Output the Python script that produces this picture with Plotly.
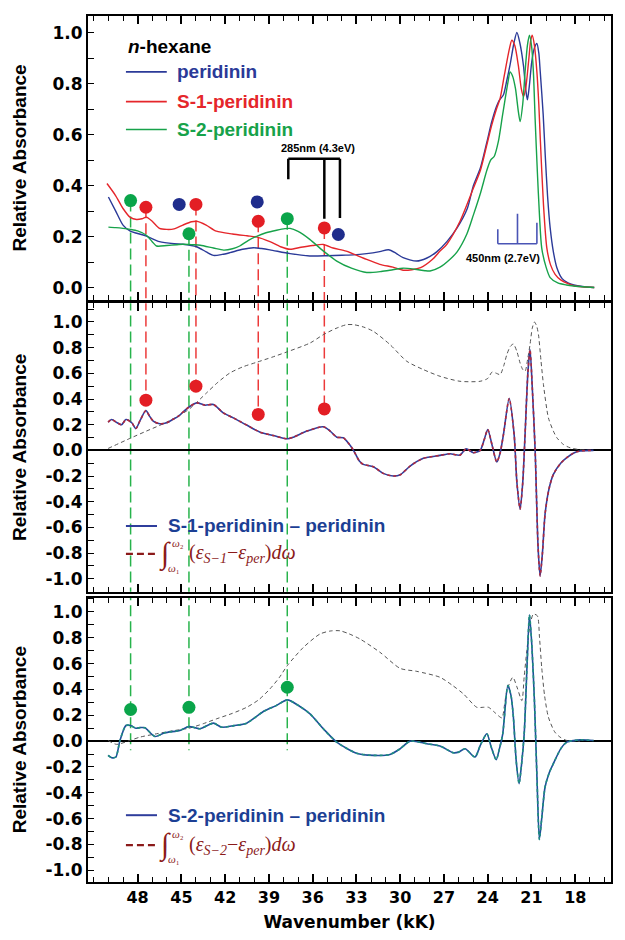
import plotly.graph_objects as go
from plotly.subplots import make_subplots

# ---------------- data: top panel (n-hexane spectra) ----------------
PER_K = [50.0, 49.5, 49.0, 48.5, 48.0, 47.4, 46.5, 45.5, 44.9, 43.95, 43.3, 42.8, 42.2, 41.67, 40.8, 40.07,
         39.5, 38.93, 37.55, 36.2, 35.0, 34.0, 33.2, 32.3, 31.4, 30.8, 30.3, 29.8, 28.87, 28.2, 27.5, 26.8,
         26.1, 25.4, 24.98, 24.5, 24.06, 23.72, 23.4, 23.2, 22.93, 22.7, 22.47, 22.2, 22.0, 21.8, 21.55,
         21.4, 21.28, 21.15, 20.98, 20.8, 20.63, 20.5, 20.4, 20.2, 20.06, 19.9, 19.72, 19.5, 19.26, 18.9,
         18.5, 18.1, 17.5, 16.7]
PER_V = [0.355, 0.30, 0.245, 0.221, 0.212, 0.202, 0.18, 0.172, 0.17, 0.16, 0.14, 0.126, 0.13, 0.137, 0.15, 0.156,
         0.153, 0.148, 0.133, 0.124, 0.125, 0.127, 0.128, 0.133, 0.141, 0.148, 0.135, 0.117, 0.104, 0.115, 0.14, 0.18,
         0.234, 0.31, 0.40, 0.47, 0.57, 0.651, 0.71, 0.735, 0.755, 0.81, 0.873, 0.96, 1.0, 0.96, 0.87,
         0.78, 0.736, 0.79, 0.886, 0.94, 0.957, 0.92, 0.846, 0.68, 0.521, 0.36, 0.234, 0.14, 0.078, 0.035,
         0.018, 0.01, 0.004, 0.0]

S1_K = [50.1, 49.5, 49.0, 48.5, 48.07, 47.7, 47.4, 47.0, 46.5, 46.0, 45.5, 44.9, 44.3, 43.95, 43.3, 42.6,
        41.5, 40.5, 39.8, 38.93, 38.2, 37.55, 36.8, 36.0, 35.27, 34.6, 33.7, 32.5, 31.4, 30.5, 29.8, 29.2,
        28.6, 27.8, 27.27, 26.8, 25.9, 24.98, 24.5, 24.06, 23.72, 23.4, 23.15, 22.9, 22.69, 22.5, 22.35,
        22.15, 21.9, 21.7, 21.55, 21.4, 21.2, 21.05, 20.95, 20.8, 20.63, 20.5, 20.4, 20.18, 19.95, 19.7,
        19.38, 19.0, 18.5, 18.1, 17.5, 16.7]
S1_V = [0.408, 0.36, 0.31, 0.275, 0.267, 0.27, 0.276, 0.26, 0.232, 0.228, 0.23, 0.245, 0.258, 0.26, 0.245, 0.221,
        0.21, 0.203, 0.198, 0.18, 0.16, 0.15, 0.158, 0.165, 0.169, 0.155, 0.143, 0.115, 0.091, 0.08, 0.068, 0.07,
        0.078, 0.11, 0.143, 0.17, 0.26, 0.39, 0.46, 0.56, 0.638, 0.70, 0.742, 0.82, 0.886, 0.94, 0.97,
        0.95, 0.87, 0.78, 0.749, 0.78, 0.886, 0.97, 0.99, 0.95, 0.846, 0.72, 0.586, 0.327, 0.156, 0.09,
        0.052, 0.03, 0.015, 0.007, 0.003, 0.0]

S2_K = [50.0, 49.5, 49.0, 48.5, 48.0, 47.4, 47.0, 46.7, 46.0, 45.3, 44.9, 44.2, 43.7, 42.8, 42.1, 41.5,
        41.0, 40.4, 39.8, 39.2, 38.47, 37.9, 37.55, 37.0, 36.2, 35.3, 34.35, 33.3, 32.3, 31.3, 30.5, 29.8,
        29.0, 28.3, 27.95, 27.27, 26.6, 26.1, 25.43, 24.98, 24.5, 24.06, 23.8, 23.55, 23.27, 23.0, 22.8,
        22.6, 22.47, 22.3, 22.1, 21.9, 21.78, 21.6, 21.44, 21.28, 21.14, 21.0, 20.87, 20.75, 20.6, 20.45,
        20.3, 20.0, 19.72, 19.2, 18.6, 18.1, 17.5, 16.7]
S2_V = [0.237, 0.235, 0.232, 0.228, 0.222, 0.205, 0.18, 0.163, 0.165, 0.168, 0.17, 0.168, 0.166, 0.155, 0.147, 0.152,
        0.163, 0.185, 0.202, 0.215, 0.225, 0.231, 0.232, 0.22, 0.189, 0.145, 0.104, 0.075, 0.059, 0.063, 0.07, 0.076,
        0.072, 0.066, 0.065, 0.08, 0.11, 0.14, 0.21, 0.285, 0.37, 0.46, 0.50, 0.515, 0.573, 0.67, 0.742,
        0.81, 0.846, 0.83, 0.781, 0.69, 0.651, 0.72, 0.846, 0.95, 0.99, 0.95, 0.846, 0.66, 0.456, 0.28,
        0.156, 0.08, 0.039, 0.018, 0.01, 0.006, 0.003, 0.0]

# ---------------- data: middle panel (S-1 minus peridinin) ----------------
D1_K = [50.02, 49.78, 49.4, 49.1, 48.8, 48.4, 48.12, 47.8, 47.43, 47.2, 46.93, 46.47, 46.0, 45.6, 45.2, 44.5,
        43.95, 43.38, 42.8, 42.13, 41.44, 40.52, 39.6, 38.7, 37.78, 37.33, 36.4, 35.27, 34.8, 34.35, 33.9,
        33.5, 33.2, 32.8, 32.53, 31.84, 31.16, 30.47, 30.0, 29.32, 28.41, 27.27, 26.58, 25.9, 25.48, 24.98,
        24.52, 24.25, 24.0, 23.7, 23.38, 23.15, 22.92, 22.53, 22.19, 22.0, 21.78, 21.6, 21.44, 21.25, 21.1,
        20.95, 20.75, 20.55, 20.41, 20.25, 20.07, 19.8, 19.5, 19.0, 18.58, 18.1, 17.67, 16.75]
D1_V = [0.22, 0.24, 0.215, 0.20, 0.24, 0.215, 0.17, 0.24, 0.31, 0.27, 0.228, 0.207, 0.215, 0.24, 0.267, 0.336,
        0.37, 0.352, 0.357, 0.292, 0.253, 0.197, 0.142, 0.116, 0.09, 0.103, 0.15, 0.184, 0.15, 0.103, 0.098,
        0.05, 0.0, -0.083, -0.109, -0.127, -0.179, -0.2, -0.19, -0.122, -0.062, -0.039, -0.026, -0.037, 0.013, -0.018,
        0.0, 0.08, 0.163, 0.04, -0.091, -0.02, 0.124, 0.404, 0.124, -0.25, -0.458, -0.25, 0.124, 0.6, 0.785,
        0.5, 0.0, -0.75, -0.977, -0.8, -0.497, -0.3, -0.187, -0.1, -0.057, -0.02, -0.005, 0.0]

I1_K = [50.02, 48.53, 47.4, 46.24, 45.3, 44.41, 43.27, 42.5, 41.67, 40.8, 39.84, 38.8, 37.78, 36.18, 35.27,
        34.4, 33.67, 33.2, 32.5, 31.84, 30.7, 29.55, 28.41, 27.27, 25.9, 24.52, 24.0, 23.7, 23.4, 23.15, 22.9,
        22.69, 22.45, 22.24, 22.0, 21.78, 21.6, 21.44, 21.25, 21.1, 20.95, 20.8, 20.65, 20.52, 20.35, 20.18,
        19.84, 19.5, 19.26, 18.8, 18.35, 17.67, 16.75]
I1_V = [0.015, 0.093, 0.15, 0.207, 0.26, 0.326, 0.448, 0.53, 0.603, 0.65, 0.686, 0.725, 0.766, 0.836, 0.901,
        0.95, 0.979, 0.979, 0.96, 0.927, 0.824, 0.694, 0.629, 0.577, 0.538, 0.538, 0.56, 0.61, 0.60, 0.59, 0.66,
        0.746, 0.81, 0.828, 0.77, 0.68, 0.63, 0.616, 0.72, 0.824, 0.95, 1.0, 0.97, 0.9, 0.7, 0.513,
        0.253, 0.15, 0.098, 0.045, 0.02, 0.005, 0.0]

# ---------------- data: bottom panel (S-2 minus peridinin) ----------------
D2_K = [50.02, 49.78, 49.49, 49.21, 48.8, 48.48, 48.12, 47.8, 47.5, 46.81, 46.13, 45.1, 44.48, 43.73, 42.81,
        42.24, 41.4, 40.52, 39.38, 38.5, 37.74, 36.9, 36.18, 35.27, 34.35, 33.0, 31.84, 30.7, 30.0, 29.32,
        28.18, 27.27, 26.35, 26.0, 25.55, 24.87, 24.5, 24.06, 23.75, 23.42, 23.2, 22.97, 22.62, 22.4, 22.24,
        22.05, 21.85, 21.7, 21.5, 21.3, 21.14, 20.98, 20.8, 20.62, 20.46, 20.3, 20.07, 19.8, 19.5, 19.0,
        18.58, 17.67, 16.75]
D2_V = [-0.11, -0.128, -0.123, 0.005, 0.121, 0.121, 0.1, 0.105, 0.103, 0.036, 0.065, 0.083, 0.113, 0.096, 0.139,
        0.108, 0.12, 0.139, 0.229, 0.275, 0.319, 0.27, 0.211, 0.096, -0.008, -0.093, -0.11, -0.103, -0.059, 0.0,
        -0.02, -0.038, -0.09, -0.085, -0.059, -0.123, -0.03, 0.057, -0.05, -0.144, -0.06, 0.057, 0.43, 0.35, 0.185,
        -0.15, -0.329, -0.2, 0.057, 0.6, 0.978, 0.75, 0.314, -0.3, -0.761, -0.6, -0.355, -0.25, -0.174, -0.06,
        -0.008, 0.01, 0.005]

I2_K = [50.02, 49.44, 48.53, 47.84, 46.7, 45.6, 44.48, 43.5, 42.58, 41.5, 40.52, 39.7, 38.93, 38.3, 37.74,
        36.64, 35.5, 34.8, 34.13, 33.5, 32.75, 31.38, 30.0, 28.86, 27.27, 26.4, 25.67, 24.75, 24.3, 23.95,
        23.5, 23.03, 22.85, 22.69, 22.28, 22.0, 21.66, 21.5, 21.32, 21.1, 20.87, 20.6, 20.45, 20.3, 20.1,
        19.84, 19.4, 19.04, 18.58, 17.67]
I2_V = [0.005, -0.025, 0.005, 0.031, 0.057, 0.08, 0.1, 0.135, 0.173, 0.215, 0.262, 0.32, 0.404, 0.49, 0.584,
        0.725, 0.829, 0.852, 0.854, 0.83, 0.79, 0.687, 0.563, 0.54, 0.494, 0.43, 0.366, 0.262, 0.262, 0.262,
        0.22, 0.18, 0.28, 0.391, 0.494, 0.42, 0.314, 0.5, 0.7, 0.9, 0.983, 0.97, 0.8, 0.571, 0.35,
        0.185, 0.07, 0.031, 0.005, 0.0]

# ---------------- band markers ----------------
TOP_GREEN_K = [48.48, 44.48, 37.74]
TOP_GREEN_V = [0.341, 0.211, 0.27]
TOP_RED_K = [47.43, 44.0, 39.73, 35.2]
TOP_RED_V = [0.315, 0.326, 0.26, 0.234]
TOP_BLUE_K = [45.15, 39.8, 34.24]
TOP_BLUE_V = [0.326, 0.336, 0.208]
OPEN_K = [30.63, 30.63, 29.44]
OPEN_V = [0.28, 0.215, 0.166]
MID_RED_V = [0.391, 0.50, 0.28, 0.323]
BOT_GREEN_V = [0.245, 0.262, 0.417]

X_TICKS = [48, 45, 42, 39, 36, 33, 30, 27, 24, 21, 18]
X_TICK_LABELS = ["48", "45", "42", "39", "36", "33", "30", "27", "24", "21", "18"]
Y_TOP_TICKS = [0.0, 0.2, 0.4, 0.6, 0.8, 1.0]
Y_TOP_LABELS = ["0.0", "0.2", "0.4", "0.6", "0.8", "1.0"]
Y_DIFF_TICKS = [-1.0, -0.8, -0.6, -0.4, -0.2, 0.0, 0.2, 0.4, 0.6, 0.8, 1.0]
Y_DIFF_LABELS = ["-1.0", "-0.8", "-0.6", "-0.4", "-0.2", "0.0", "0.2", "0.4", "0.6", "0.8", "1.0"]

BLUE = "#2b3a98"
RED = "#e5262b"
GREEN = "#17a24a"
DOT_GREEN = "#0aa54a"
DOT_RED = "#e31e24"
DOT_BLUE = "#1f2d8c"
DARKRED = "#8b1a1a"
NAVY = "#1c3f94"
GRAY = "#555555"

fig = make_subplots(rows=3, cols=1, shared_xaxes=True, vertical_spacing=0.01)

def line(k, v, row, color, width=1.4, dash=None):
    fig.add_trace(go.Scatter(x=k, y=v, mode="lines",
                             line=dict(color=color, width=width, dash=dash, shape="spline", smoothing=0.7),
                             showlegend=False, hoverinfo="skip"), row=row, col=1)

# vertical dashed guide lines (drawn as shapes below traces)
def vseg(k, y0, y1, row, color):
    yref = "y" if row == 1 else f"y{row}"
    fig.add_shape(type="line", xref="x", yref=yref, x0=k, x1=k, y0=y0, y1=y1,
                  line=dict(color=color, width=1.5, dash="11px,5px"), layer="below")

GUIDE_GREEN = "#27b34b"
GUIDE_RED = "#ec3a3a"
for k, v in zip(TOP_GREEN_K, TOP_GREEN_V):
    vseg(k, v, -0.2, 1, GUIDE_GREEN)
    vseg(k, 1.3, -1.3, 2, GUIDE_GREEN)
    vseg(k, 1.3, -0.07, 3, GUIDE_GREEN)
for k, v, mv in zip(TOP_RED_K, TOP_RED_V, MID_RED_V):
    vseg(k, v, -0.2, 1, GUIDE_RED)
    vseg(k, 1.3, mv, 2, GUIDE_RED)

# top spectra
line(PER_K, PER_V, 1, BLUE)
line(S1_K, S1_V, 1, RED)
line(S2_K, S2_V, 1, GREEN)

def dots(k, v, row, color, open_=False):
    if open_:
        mk = dict(size=12, color="white", line=dict(color=color, width=2), symbol="circle-open")
    else:
        mk = dict(size=13, color=color, line=dict(width=0))
    fig.add_trace(go.Scatter(x=k, y=v, mode="markers", marker=mk, showlegend=False, hoverinfo="skip"),
                  row=row, col=1)

dots(TOP_GREEN_K, TOP_GREEN_V, 1, DOT_GREEN)
dots(TOP_RED_K, TOP_RED_V, 1, DOT_RED)
dots(TOP_BLUE_K, TOP_BLUE_V, 1, DOT_BLUE)
for kk, vv, cc in zip(OPEN_K, OPEN_V, [BLUE, RED, GREEN]):
    dots([kk], [vv], 1, cc, open_=True)

# middle panel
line(I1_K, I1_V, 2, GRAY, width=1, dash="4px,3px")
line(D1_K, D1_V, 2, "#2f3d9c", width=1.6)
line(D1_K, D1_V, 2, "#b0283c", width=1.6, dash="3px,3px")
dots(TOP_RED_K, MID_RED_V, 2, DOT_RED)

# bottom panel
line(I2_K, I2_V, 3, GRAY, width=1, dash="4px,3px")
line(D2_K, D2_V, 3, "#1f4f9a", width=1.6)
line(D2_K, D2_V, 3, "#1f8f80", width=1.6, dash="3px,3px")
dots(TOP_GREEN_K, BOT_GREEN_V, 3, DOT_GREEN)

# brackets
def seg(x0, x1, y0, y1, color, width, yref="y", dash=None):
    fig.add_shape(type="line", xref="x", yref=yref, x0=x0, x1=x1, y0=y0, y1=y1,
                  line=dict(color=color, width=width, dash=dash))

seg(37.67, 34.13, 0.505, 0.505, "black", 2.5)
seg(37.67, 37.67, 0.505, 0.425, "black", 2.5)
seg(35.2, 35.2, 0.505, 0.27, "black", 2.5)
seg(34.13, 34.13, 0.505, 0.273, "black", 2.5)
BR = "#4a55b5"
seg(23.31, 20.63, 0.172, 0.172, BR, 1.6)
seg(23.31, 23.31, 0.172, 0.229, BR, 1.6)
seg(21.96, 21.96, 0.172, 0.289, BR, 1.6)
seg(20.63, 20.63, 0.172, 0.254, BR, 1.6)

LBL = "Liberation Sans"
def ann(text, x, y, yref="y", size=19, color="black", xanchor="left", font=LBL, **kw):
    fig.add_annotation(text=text, x=x, y=y, xref="x", yref=yref, showarrow=False, xanchor=xanchor,
                       yanchor="middle", font=dict(family=font, size=size, color=color), **kw)

ann("<b>285nm (4.3eV)</b>", 35.63, 0.546, size=11, xanchor="center")
ann("<b>450nm (2.7eV)</b>", 22.94, 0.116, size=11, xanchor="center")

# top legend
ann("<b><i>n</i>-hexane</b>", 48.8, 0.944, size=19)
for txt, col, yv in [("peridinin", BLUE, 0.846), ("S-1-peridinin", RED, 0.729), ("S-2-peridinin", GREEN, 0.62)]:
    seg(48.8, 46.0, yv, yv, col, 1.6)
    ann(f"<b>{txt}</b>", 45.45, yv, size=19, color=col)

# middle / bottom legends
SERIF = "Liberation Serif"
for yr, y1, y2, sub, label in [("y2", -0.588, -0.806, "S−1", "S-1-peridinin – peridinin"),
                               ("y3", -0.573, -0.805, "S−2", "S-2-peridinin – peridinin")]:
    seg(48.8, 46.67, y1, y1, "#2f3d9c", 2, yref=yr)
    ann(f"<b>{label}</b>", 46.05, y1, yref=yr, size=19, color=NAVY)
    seg(48.8, 46.67, y2, y2, DARKRED, 2.2, yref=yr, dash="7px,4px")
    ann("∫", 46.09, y2, yref=yr, size=30, color=DARKRED, font=SERIF, xanchor="center")
    ann("<i>ω</i>₂", 45.2, y2 + 0.085, yref=yr, size=11, color=DARKRED, font=SERIF, xanchor="center")
    ann("<i>ω</i>₁", 45.5, y2 - 0.11, yref=yr, size=11, color=DARKRED, font=SERIF, xanchor="center")
    ann(f"(<i>ε</i><sub><i>{sub}</i></sub>−<i>ε</i><sub><i>per</i></sub>)<i>dω</i>", 44.6, y2,
        yref=yr, size=20, color=DARKRED, font=SERIF)

# y-axis titles
for yr in ["y", "y2", "y3"]:
    fig.add_annotation(text="<b>Relative Absorbance</b>", xref="paper", yref=f"{yr} domain",
                       x=-0.155, y=0.5, textangle=-90, showarrow=False,
                       font=dict(family="Liberation Sans Narrow, Liberation Sans", size=19, color="black"))

XTICKFONT = dict(family="DejaVu Sans", size=16, color="black", weight="bold")
YTICKFONT = dict(family="DejaVu Sans", size=17, color="black", weight="bold")
for i in range(1, 4):
    fig.update_xaxes(row=i, col=1, range=[51.4, 15.55], tickvals=X_TICKS, ticktext=X_TICK_LABELS,
                     ticks="inside", ticklen=8, tickwidth=1.5, tickcolor="black",
                     showline=True, linewidth=2, linecolor="black", mirror="ticks",
                     showgrid=False, zeroline=False, tickfont=XTICKFONT,
                     minor=dict(dtick=1, tick0=48, ticks="inside", ticklen=5, tickwidth=1.2,
                                tickcolor="black", showgrid=False))

fig.update_xaxes(row=3, col=1, title=dict(text="<b>Wavenumber (kK)</b>", standoff=10,
                                         font=dict(family="DejaVu Sans", size=17, color="black")))

YCOMMON = dict(ticks="inside", ticklen=6, tickwidth=1.3, tickcolor="black", showline=True, linewidth=2,
               linecolor="black", mirror=True, showgrid=False, tickfont=YTICKFONT)
MINOR_Y = dict(dtick=0.1, tick0=0, ticks="inside", ticklen=6, tickwidth=1.2, tickcolor="black")
fig.update_yaxes(row=1, col=1, range=[-0.05, 1.065], tickvals=Y_TOP_TICKS, ticktext=Y_TOP_LABELS,
                 zeroline=False, domain=[0.6717, 1.0], minor=MINOR_Y, **YCOMMON)
fig.update_yaxes(row=2, col=1, range=[-1.10, 1.145], tickvals=Y_DIFF_TICKS, ticktext=Y_DIFF_LABELS,
                 zeroline=True, zerolinecolor="black", zerolinewidth=1.5, domain=[0.3353, 0.6682],
                 minor=MINOR_Y, **YCOMMON)
fig.update_yaxes(row=3, col=1, range=[-1.09, 1.11], tickvals=Y_DIFF_TICKS, ticktext=Y_DIFF_LABELS,
                 zeroline=True, zerolinecolor="black", zerolinewidth=1.5, domain=[0.0, 0.3283],
                 minor=MINOR_Y, **YCOMMON)

# page body has an 8px margin, so the figure is 8px smaller and margins shifted accordingly
fig.update_layout(width=617, height=932, margin=dict(l=80, r=14, t=6, b=58),
                  plot_bgcolor="white", paper_bgcolor="white", showlegend=False)

fig.write_html("out.html")
